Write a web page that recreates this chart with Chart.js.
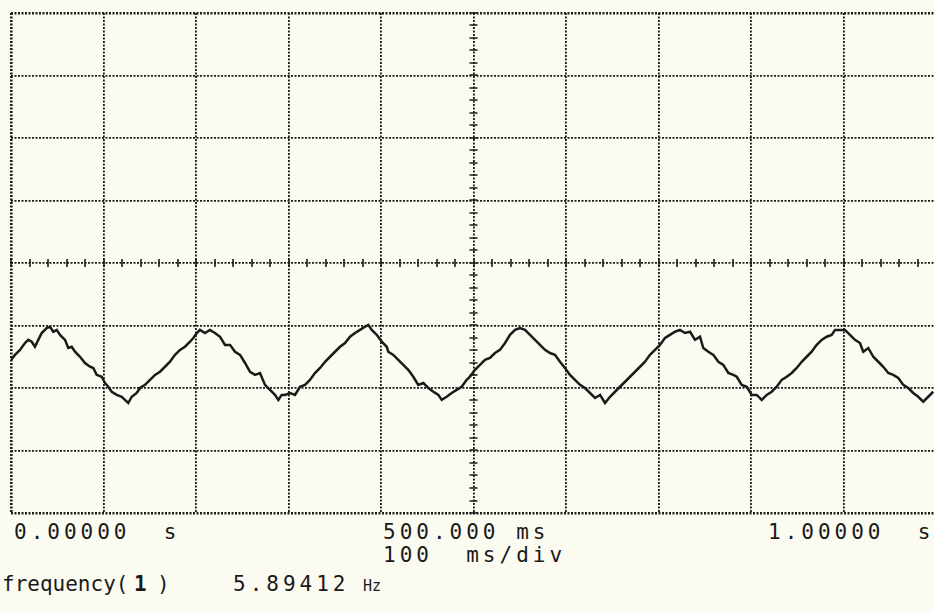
<!DOCTYPE html>
<html>
<head>
<meta charset="utf-8">
<script src="https://cdn.jsdelivr.net/npm/chart.js@4"></script>
<style>
  html, body { margin: 0; padding: 0; background: #fcfbf2; overflow: hidden; }
  #wrap { position: relative; width: 934px; height: 612px; }
  #scope { position: absolute; left: 0; top: 0; }
  .lbl { position: absolute; font-family: "DejaVu Sans Mono", monospace; font-size: 21px;
         line-height: 21px; color: #1a1a1a; letter-spacing: 4px; white-space: pre; }
  .small { font-size: 15px; letter-spacing: 0; }
</style>
</head>
<body>
<div id="wrap">
  <canvas id="scope" width="940" height="520"></canvas>
  <div class="lbl" style="left:14px; top:522px;">0.00000  s</div>
  <div class="lbl" style="left:383px; top:522px;">500.000 ms</div>
  <div class="lbl" style="left:383px; top:545px;">100  ms/div</div>
  <div class="lbl" style="left:768px; top:522px;">1.00000  s</div>
  <div class="lbl" style="left:2px; top:574px; letter-spacing:0;">frequency(</div>
  <div class="lbl" style="left:134px; top:574px; font-weight:bold;">1</div>
  <div class="lbl" style="left:157px; top:574px;">)</div>
  <div class="lbl" style="left:233px; top:574px;">5.89412</div>
  <div class="lbl small" style="left:363px; top:576px;">Hz</div>
</div>
<script>
// --- Trace data (time in ms, amplitude in divisions) ---
const timeMs = [
  0, 4.3, 9.7, 15.1, 18.7, 22.4, 25.9, 29.5, 33.2, 38.6, 42.2, 45.7, 49.4, 53.0, 58.4, 61.9,
  65.6, 69.2, 74.6, 80.0, 85.4, 89.0, 92.6, 98.1, 101.6, 105.2, 108.9, 114.3, 119.7, 123.2,
  126.8, 130.5, 135.9, 139.5, 144.9, 150.3, 155.7, 161.1, 166.5, 171.9, 177.3, 182.7, 188.1,
  193.5, 197.1, 200.8, 204.3, 209.7, 215.1, 220.5, 226.0, 231.4, 236.8, 242.2, 247.6,
  253.0, 258.4, 263.8, 269.2, 274.6, 280.0, 285.4, 289.0, 292.6, 296.2, 301.6, 307.0, 312.4,
  317.8, 323.2, 328.6, 334.1, 339.5, 344.9, 350.3, 355.7, 361.1, 366.5, 371.9, 377.3, 382.7,
  386.3, 390.0, 395.4, 400.8, 406.2, 407.9, 413.3, 418.7, 424.1, 429.5, 434.9, 440.3, 445.8,
  451.2, 456.6, 462.0, 465.6, 471.0, 476.4, 481.8, 487.2, 492.6, 496.2,
  501.6, 507.0, 512.4, 517.8, 523.2, 528.6, 534.1, 539.5, 544.9, 550.3, 555.7, 561.1, 566.5,
  571.9, 577.3, 582.7, 588.1, 593.5, 598.9, 604.3, 609.7, 615.1, 620.5, 626.0, 631.4, 636.8,
  642.2, 647.6, 653.0, 658.4, 663.8, 669.2, 674.6, 680.0, 685.4, 690.8, 696.2, 701.6, 707.0,
  712.4, 717.8, 723.2, 728.6, 734.1, 739.5, 744.9,
  748.4, 753.9, 759.3, 764.7, 770.1, 775.5, 780.9, 784.6, 790.0, 795.4, 800.8, 806.2, 811.6,
  817.0, 822.4, 827.8, 833.2, 838.6, 844.0, 849.4, 854.8, 860.2, 865.6, 871.0, 876.4, 881.8,
  887.2, 890.8, 896.2, 901.6, 907.0, 912.4, 917.8, 921.4, 926.8, 932.2, 937.6, 943.0, 948.4,
  953.8, 959.2, 964.6, 970.0, 975.4, 980.8, 986.2, 991.6, 997.0
];
const traceDiv = [
  -1.55, -1.47, -1.39, -1.28, -1.23, -1.26, -1.34, -1.23, -1.12, -1.04, -1.02, -1.10, -1.07, -1.15, -1.23, -1.36,
  -1.34, -1.42, -1.50, -1.60, -1.66, -1.68, -1.79, -1.82, -1.92, -1.98, -2.06, -2.11, -2.14, -2.19,
  -2.24, -2.14, -2.08, -2.00, -1.95, -1.87, -1.79, -1.74, -1.66, -1.58, -1.47, -1.39, -1.34,
  -1.26, -1.20, -1.12, -1.07, -1.12, -1.07, -1.12, -1.18, -1.31, -1.31, -1.42, -1.47,
  -1.60, -1.74, -1.79, -1.76, -1.95, -2.03, -2.11, -2.19, -2.11, -2.11, -2.08, -2.11, -1.98,
  -1.95, -1.87, -1.76, -1.68, -1.58, -1.50, -1.42, -1.34, -1.28, -1.18, -1.12, -1.07, -1.02,
  -0.99, -1.07, -1.15, -1.26, -1.34, -1.42, -1.47, -1.55, -1.63, -1.71, -1.82, -1.95, -1.92,
  -2.00, -2.06, -2.11, -2.19, -2.14, -2.08, -2.03, -1.98, -1.87, -1.82,
  -1.71, -1.63, -1.55, -1.52, -1.44, -1.39, -1.28, -1.15, -1.07, -1.04, -1.07, -1.15, -1.23,
  -1.31, -1.39, -1.44, -1.47, -1.58, -1.68, -1.79, -1.87, -1.95, -2.00, -2.08, -2.16, -2.11,
  -2.24, -2.14, -2.06, -1.98, -1.90, -1.82, -1.74, -1.66, -1.58, -1.47, -1.39, -1.31, -1.20,
  -1.15, -1.10, -1.07, -1.12, -1.10, -1.23, -1.18,
  -1.36, -1.42, -1.47, -1.58, -1.63, -1.76, -1.79, -1.82, -1.95, -1.98, -2.11, -2.11, -2.19,
  -2.11, -2.06, -1.98, -1.87, -1.82, -1.76, -1.68, -1.58, -1.50, -1.42, -1.31, -1.23, -1.18,
  -1.15, -1.07, -1.07, -1.07, -1.15, -1.23, -1.28, -1.42, -1.36, -1.50, -1.58, -1.66, -1.76,
  -1.79, -1.84, -1.95, -2.00, -2.08, -2.14, -2.22, -2.14, -2.06
];

// screen: 10 horizontal x 8 vertical divisions
const timeRange = [0, 1000];   // ms
const voltRange = [-4, 4];     // divisions

const inkColor = '#1a1a1a';

// edge lines of the graticule are drawn heavier than the inner ones
function gridWidth(c) {
  const v = c.tick ? c.tick.value : null;
  if (c.scale.axis === 'x') return (v === timeRange[0] || v === timeRange[1]) ? 2.6 : 1.8;
  return (v === voltRange[0] || v === voltRange[1]) ? 2.6 : 1.8;
}

// little tick marks along the two centre lines (5 per division)
const centreTicks = {
  id: 'centreTicks',
  afterDraw(chart) {
    const { ctx, scales: { x, y } } = chart;
    const cx = x.getPixelForValue(500);
    const cy = y.getPixelForValue(0);
    ctx.save();
    ctx.strokeStyle = inkColor;
    ctx.lineWidth = 1.6;
    ctx.beginPath();
    for (let t = timeRange[0]; t <= timeRange[1]; t += 20) {
      const px = Math.round(x.getPixelForValue(t));
      ctx.moveTo(px, cy - 4);
      ctx.lineTo(px, cy + 4);
    }
    for (let v = voltRange[0]; v <= voltRange[1] + 0.01; v += 0.2) {
      const py = Math.round(y.getPixelForValue(v));
      ctx.moveTo(cx - 4, py);
      ctx.lineTo(cx + 4, py);
    }
    ctx.stroke();
    ctx.restore();
  }
};

const ctx = document.getElementById('scope').getContext('2d');
new Chart(ctx, {
  type: 'line',
  data: {
    datasets: [{
      data: timeMs.map((t, i) => ({ x: t, y: traceDiv[i] })),
      borderColor: inkColor,
      borderWidth: 2.5,
      pointRadius: 0,
      tension: 0,
      fill: false
    }]
  },
  options: {
    responsive: false,
    animation: false,
    layout: { padding: { left: 11, top: 13, right: 4, bottom: 7 } },
    plugins: { legend: { display: false }, tooltip: { enabled: false } },
    scales: {
      x: {
        type: 'linear',
        min: timeRange[0],
        max: timeRange[1],
        ticks: { display: false, stepSize: 100 },
        grid: { color: inkColor, lineWidth: gridWidth, drawTicks: false },
        border: { display: false, dash: [2, 1.5] }
      },
      y: {
        min: voltRange[0],
        max: voltRange[1],
        ticks: { display: false, stepSize: 1 },
        grid: { color: inkColor, lineWidth: gridWidth, drawTicks: false },
        border: { display: false, dash: [2, 1.5] }
      }
    }
  },
  plugins: [centreTicks]
});
</script>
</body>
</html>
